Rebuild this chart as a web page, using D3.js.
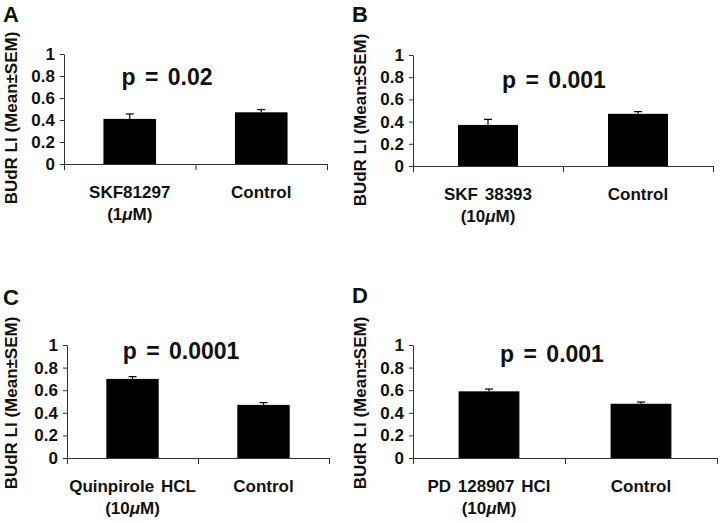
<!DOCTYPE html>
<html>
<head>
<meta charset="utf-8">
<script src="https://cdn.jsdelivr.net/npm/d3@7"></script>
<style>
  html, body { margin: 0; padding: 0; background: #fff; }
  svg text { font-family: "Liberation Sans", Arial, Helvetica, sans-serif; font-weight: bold; fill: #111; }
</style>
</head>
<body>
<div id="chart"></div>
<script>
// data
const panelIds = ["A", "B", "C", "D"];
const drugNames = ["SKF81297", "SKF 38393", "Quinpirole HCL", "PD 128907 HCl"];
const drugDoses = ["(1μM)", "(10μM)", "(10μM)", "(10μM)"];
const controlName = "Control";
const drugMeans = [0.41, 0.37, 0.70, 0.59];
const drugSems = [0.045, 0.05, 0.02, 0.02];
const controlMeans = [0.47, 0.47, 0.47, 0.48];
const controlSems = [0.025, 0.02, 0.02, 0.015];
const pValues = ["0.02", "0.001", "0.0001", "0.001"];
const yTicks = [0, 0.2, 0.4, 0.6, 0.8, 1];
const yTitle = "BUdR LI (Mean±SEM)";

// panel geometry (pixels in the 720x523 page)
const layout = [
  { x0: 64, x1: 327, top: 54, bottom: 164, letter: [3, 22], titleX: 17, titleY: 118, p: [167, 85] },
  { x0: 413, x1: 713, top: 55, bottom: 166, letter: [352, 22], titleX: 366, titleY: 120, p: [554, 88] },
  { x0: 67, x1: 329, top: 345, bottom: 458, letter: [3, 305], titleX: 17, titleY: 403, p: [181, 359] },
  { x0: 413, x1: 717, top: 345, bottom: 458, letter: [352, 303], titleX: 366, titleY: 403, p: [552, 362] }
];

const width = 720, height = 523;
const svg = d3.select("#chart").append("svg")
  .attr("width", width)
  .attr("height", height);

panelIds.forEach((id, i) => {
  const L = layout[i];
  const g = svg.append("g");
  const rows = [
    { name: drugNames[i], dose: drugDoses[i], mean: drugMeans[i], sem: drugSems[i] },
    { name: controlName, dose: "", mean: controlMeans[i], sem: controlSems[i] }
  ];

  const x = d3.scaleBand()
    .domain(rows.map(d => d.name))
    .range([L.x0, L.x1])
    .paddingInner(0.6)
    .paddingOuter(0.3);

  const y = d3.scaleLinear()
    .domain([0, 1])
    .range([L.bottom, L.top]);

  // bars
  g.selectAll("rect.bar")
    .data(rows)
    .enter().append("rect")
    .attr("class", "bar")
    .attr("x", d => x(d.name))
    .attr("y", d => y(d.mean))
    .attr("width", x.bandwidth())
    .attr("height", d => y(0) - y(d.mean))
    .attr("fill", "#000");

  // error bars (only upper half shows over the black bar)
  const err = g.selectAll("g.err")
    .data(rows)
    .enter().append("g")
    .attr("class", "err")
    .attr("stroke", "#000")
    .attr("stroke-width", 1.2);
  err.append("line")
    .attr("x1", d => x(d.name) + x.bandwidth() / 2)
    .attr("x2", d => x(d.name) + x.bandwidth() / 2)
    .attr("y1", d => y(d.mean))
    .attr("y2", d => y(d.mean + d.sem));
  err.append("line")
    .attr("x1", d => x(d.name) + x.bandwidth() / 2 - 4)
    .attr("x2", d => x(d.name) + x.bandwidth() / 2 + 4)
    .attr("y1", d => y(d.mean + d.sem))
    .attr("y2", d => y(d.mean + d.sem));

  // y axis
  const yAxis = g.append("g")
    .attr("transform", `translate(${L.x0},0)`)
    .call(d3.axisLeft(y).tickValues(yTicks).tickFormat(d3.format("")).tickSize(4).tickPadding(5).tickSizeOuter(0));
  yAxis.select(".domain").attr("stroke", "#333");
  yAxis.selectAll(".tick line").attr("stroke", "#333");
  yAxis.selectAll("text").style("font-size", "17px").attr("fill", "#111");

  // x axis: ticks at the category boundaries
  const xb = d3.scaleLinear().domain([0, rows.length]).range([L.x0, L.x1]);
  const xAxis = g.append("g")
    .attr("transform", `translate(0,${L.bottom})`)
    .call(d3.axisBottom(xb).tickValues(d3.range(rows.length + 1)).tickFormat("").tickSize(6).tickSizeOuter(0));
  xAxis.select(".domain").attr("stroke", "#333");
  xAxis.selectAll(".tick line").attr("stroke", "#333");

  // category labels
  const lab = g.selectAll("text.cat")
    .data(rows)
    .enter().append("text")
    .attr("class", "cat")
    .attr("text-anchor", "middle")
    .style("font-size", "17px")
    .style("word-spacing", "2px");
  lab.append("tspan")
    .attr("x", d => x(d.name) + x.bandwidth() / 2)
    .attr("y", L.bottom + 34)
    .text(d => d.name);
  lab.filter(d => d.dose).each(function(d) {
    const parts = d.dose.split("μ");
    d3.select(this).append("tspan")
      .attr("x", x(d.name) + x.bandwidth() / 2)
      .attr("y", L.bottom + 56)
      .text(parts[0]);
    d3.select(this).append("tspan").style("font-style", "italic").text("μ");
    d3.select(this).append("tspan").text(parts[1]);
  });

  // y title
  g.append("text")
    .attr("transform", `translate(${L.titleX},${L.titleY}) rotate(-90)`)
    .attr("text-anchor", "middle")
    .style("font-size", "17px")
    .text(yTitle);

  // p value
  g.append("text")
    .attr("x", L.p[0])
    .attr("y", L.p[1])
    .attr("text-anchor", "middle")
    .style("font-size", "23px")
    .style("word-spacing", "3px")
    .text("p = " + pValues[i]);

  // panel letter
  g.append("text")
    .attr("x", L.letter[0])
    .attr("y", L.letter[1])
    .style("font-size", "22px")
    .style("font-weight", "900")
    .text(id);
});
</script>
</body>
</html>
